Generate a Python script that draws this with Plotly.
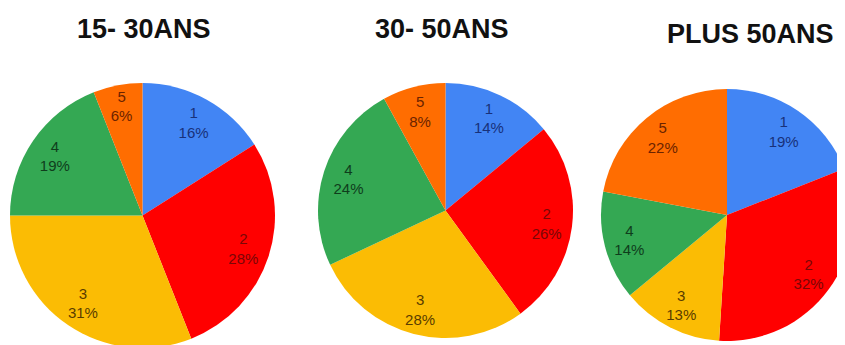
import plotly.graph_objects as go

CATEGORIES = ["1", "2", "3", "4", "5"]
TITLES = ["15- 30ANS", "30- 50ANS", "PLUS 50ANS"]
VALUES_15_30 = [16, 28, 31, 19, 6]
VALUES_30_50 = [14, 26, 28, 24, 8]
VALUES_50_PLUS = [19, 32, 13, 14, 22]

SLICE_COLORS = ["#4285F4", "#FF0000", "#FBBC04", "#34A853", "#FF6D01"]
TEXT_COLORS = ["#18317a", "#7a0606", "#5a3c00", "#0f3d1c", "#6b2300"]
FONT = "Arial, Liberation Sans, sans-serif"

W, H = 845, 345

# pixel boxes (left, top, right, bottom) in figure coords (page body adds 8px)
PIE_BOXES = [(2, 75, 267, 340), (310, 75, 565, 330), (593, 81, 845, 333)]
TITLE_POS = [(136, 21), (434, 21), (742, 26)]


def px_domain(box):
    l, t, r, b = box
    return dict(x=[l / W, r / W], y=[(H - b) / H, (H - t) / H])


fig = go.Figure()

for values, box in zip([VALUES_15_30, VALUES_30_50, VALUES_50_PLUS], PIE_BOXES):
    dom = px_domain(box)
    # coloured slices
    fig.add_trace(
        go.Pie(
            labels=CATEGORIES,
            values=values,
            sort=False,
            direction="clockwise",
            rotation=0,
            domain=dom,
            marker=dict(colors=SLICE_COLORS, line=dict(width=0)),
            textinfo="none",
            showlegend=False,
            hoverinfo="label+percent",
        )
    )
    # transparent ring on top, only to push the labels out towards the rim
    fig.add_trace(
        go.Pie(
            labels=CATEGORIES,
            values=values,
            sort=False,
            direction="clockwise",
            rotation=0,
            hole=0.6,
            domain=dom,
            marker=dict(colors=["rgba(0,0,0,0)"] * len(CATEGORIES), line=dict(width=0)),
            texttemplate="%{label}<br>%{percent:.0%}",
            textposition="inside",
            insidetextorientation="horizontal",
            textfont=dict(family=FONT, size=15, color=TEXT_COLORS),
            showlegend=False,
            hoverinfo="skip",
        )
    )

for title, (tx, ty) in zip(TITLES, TITLE_POS):
    fig.add_annotation(
        text=f"<b>{title}</b>",
        x=tx / W,
        y=(H - ty) / H,
        xref="paper",
        yref="paper",
        xanchor="center",
        yanchor="middle",
        showarrow=False,
        font=dict(family=FONT, size=27, color="#111111"),
    )

fig.update_layout(
    width=W,
    height=H,
    margin=dict(l=0, r=0, t=0, b=0, pad=0),
    paper_bgcolor="white",
    plot_bgcolor="white",
    uniformtext=dict(minsize=15, mode="show"),
)

fig.write_html("out.html")
